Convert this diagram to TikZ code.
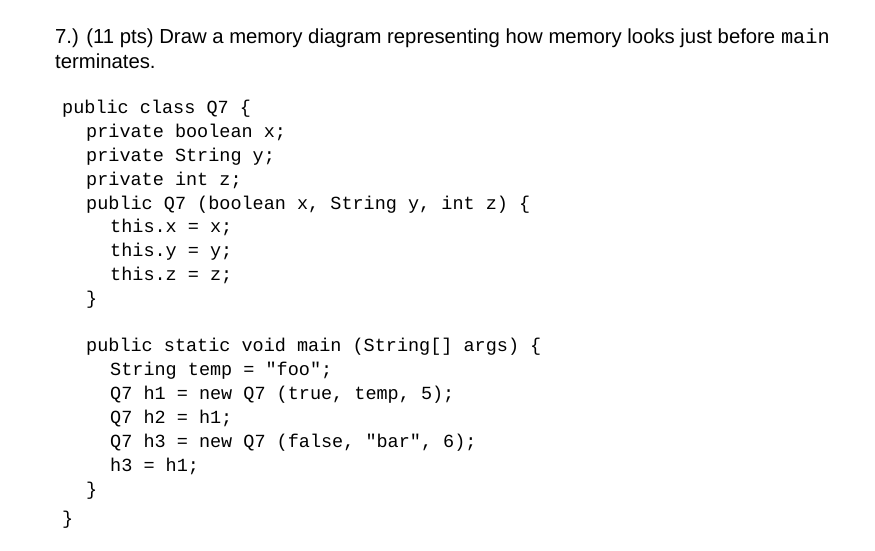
\documentclass[tikz,border=0pt]{standalone}
\usepackage{fontspec}
\setmainfont{Liberation Sans}
\setmonofont{Liberation Mono}
\begin{document}
\begin{tikzpicture}[x=1pt,y=-1pt,
  head/.style={anchor=west,inner sep=0pt,font=\fontsize{20.3}{22}\selectfont,text height=14pt,text depth=4pt},
  code/.style={anchor=west,inner sep=0pt,font=\fontsize{18.5}{22}\selectfont\ttfamily,text height=13pt,text depth=4pt}]
\useasboundingbox[fill=white] (0,0) rectangle (875,550);
\node[head] (h1) at (55,38) {7.) (11 pts) Draw a memory diagram representing how memory looks just before \texttt{main}};
\node[head] (h2) at (55,63) {terminates.};
\node[code] (c1) at (62,109) {public class Q7 \{};
\node[code] (c2) at (86,133) {private boolean x;};
\node[code] (c3) at (86,157) {private String y;};
\node[code] (c4) at (86,181) {private int z;};
\node[code] (c5) at (86,205) {public Q7 (boolean x, String y, int z) \{};
\node[code] (c6) at (110,228) {this.x = x;};
\node[code] (c7) at (110,252) {this.y = y;};
\node[code] (c8) at (110,276) {this.z = z;};
\node[code] (c9) at (86,300) {\}};
\node[code] (c10) at (86,347) {public static void main (String[] args) \{};
\node[code] (c11) at (110,371) {String temp = "foo";};
\node[code] (c12) at (110,395) {Q7 h1 = new Q7 (true, temp, 5);};
\node[code] (c13) at (110,419) {Q7 h2 = h1;};
\node[code] (c14) at (110,443) {Q7 h3 = new Q7 (false, "bar", 6);};
\node[code] (c15) at (110,467) {h3 = h1;};
\node[code] (c16) at (86,491) {\}};
\node[code] (c17) at (62,520) {\}};
\end{tikzpicture}
\end{document}
